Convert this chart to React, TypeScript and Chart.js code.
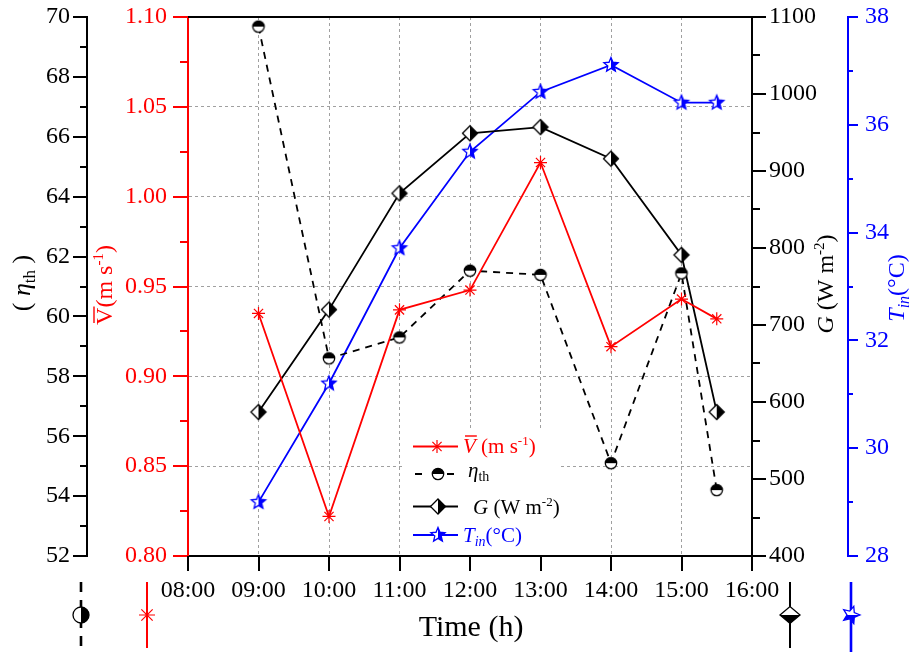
import React, { useEffect, useRef } from "react";
import { Chart, registerables } from "chart.js";

Chart.register(...registerables);

// ---------------- data ----------------
const TIME_HOURS = [9, 10, 11, 12, 13, 14, 15, 15.5];
const VELOCITY = [0.935, 0.822, 0.937, 0.948, 1.019, 0.9165, 0.943, 0.932];
const EFFICIENCY = [69.68, 58.6, 59.3, 61.53, 61.39, 55.1, 61.44, 54.2];
const IRRADIANCE = [587, 720, 871, 949, 957, 916, 791, 587];
const TEMPERATURE = [29.0, 31.2, 33.71, 35.5, 36.61, 37.11, 36.41, 36.41];
const TIME_TICK_LABELS = ["08:00", "09:00", "10:00", "11:00", "12:00", "13:00", "14:00", "15:00", "16:00"];

const X_RANGE = [8, 16];
const ETA_RANGE = [52, 70];
const V_RANGE = [0.8, 1.1];
const G_RANGE = [400, 1100];
const T_RANGE = [28, 38];

// ---------------- styles ----------------
const SERIF = "'Liberation Serif', 'Times New Roman', serif";
const RED = "#ff0000";
const BLUE = "#0000ff";
const BLACK = "#000000";
const GRID = "#a0a0a0";

type Ctx = CanvasRenderingContext2D;

function drawEta(g: Ctx, x: number, y: number, r: number, rot: number) {
  g.save();
  g.translate(x, y);
  g.rotate(rot);
  g.beginPath();
  g.arc(0, 0, r, 0, Math.PI * 2);
  g.fillStyle = "#fff";
  g.fill();
  g.beginPath();
  g.arc(0, 0, r, Math.PI, Math.PI * 2);
  g.closePath();
  g.fillStyle = BLACK;
  g.fill();
  g.beginPath();
  g.arc(0, 0, r, 0, Math.PI * 2);
  g.lineWidth = 1.3;
  g.strokeStyle = BLACK;
  g.stroke();
  g.restore();
}

function drawG(g: Ctx, x: number, y: number, rx: number, ry: number, rot: number) {
  g.save();
  g.translate(x, y);
  g.rotate(rot);
  g.beginPath();
  g.moveTo(0, -ry);
  g.lineTo(0, ry);
  g.lineTo(-rx, 0);
  g.closePath();
  g.fillStyle = "#fff";
  g.fill();
  g.beginPath();
  g.moveTo(0, -ry);
  g.lineTo(rx, 0);
  g.lineTo(0, ry);
  g.closePath();
  g.fillStyle = BLACK;
  g.fill();
  g.beginPath();
  g.moveTo(0, -ry);
  g.lineTo(rx, 0);
  g.lineTo(0, ry);
  g.lineTo(-rx, 0);
  g.closePath();
  g.lineWidth = 1.3;
  g.strokeStyle = BLACK;
  g.stroke();
  g.restore();
}

function starPath(g: Ctx, R: number, r: number) {
  g.beginPath();
  for (let i = 0; i < 10; i++) {
    const a = -Math.PI / 2 + (i * Math.PI) / 5;
    const rad = i % 2 === 0 ? R : r;
    g.lineTo(rad * Math.cos(a), rad * Math.sin(a));
  }
  g.closePath();
}

function drawT(g: Ctx, x: number, y: number, R: number, rot: number) {
  g.save();
  g.translate(x, y);
  g.rotate(rot);
  starPath(g, R, R * 0.45);
  g.fillStyle = "#fff";
  g.fill();
  g.save();
  g.clip();
  g.fillStyle = BLUE;
  g.fillRect(0, -R - 1, R + 1, 2 * R + 2);
  g.restore();
  starPath(g, R, R * 0.45);
  g.lineWidth = 1.3;
  g.strokeStyle = BLUE;
  g.stroke();
  g.restore();
}

function drawAsterisk(g: Ctx, x: number, y: number, r: number) {
  g.save();
  g.translate(x, y);
  g.strokeStyle = RED;
  g.lineWidth = 1.2;
  g.beginPath();
  for (let i = 0; i < 4; i++) {
    const a = (i * Math.PI) / 4;
    g.moveTo(-r * Math.cos(a), -r * Math.sin(a));
    g.lineTo(r * Math.cos(a), r * Math.sin(a));
  }
  g.stroke();
  g.restore();
}

function symCanvas(size: number, draw: (g: Ctx) => void) {
  const c = document.createElement("canvas");
  c.width = size;
  c.height = size;
  const g = c.getContext("2d")!;
  draw(g);
  return c;
}

type Seg = { t: string; font: string; dy?: number; over?: boolean };

function drawRich(g: Ctx, segs: Seg[], x: number, y: number, rot: number, color: string, align: "center" | "left") {
  g.save();
  g.translate(x, y);
  g.rotate(rot);
  g.fillStyle = color;
  g.strokeStyle = color;
  g.textBaseline = "alphabetic";
  g.textAlign = "left";
  const widths = segs.map((s) => {
    g.font = s.font;
    return g.measureText(s.t).width;
  });
  const total = widths.reduce((a, b) => a + b, 0);
  let cx = align === "center" ? -total / 2 : 0;
  segs.forEach((s, i) => {
    g.font = s.font;
    g.fillText(s.t, cx, s.dy || 0);
    if (s.over) {
      const m = g.measureText("V");
      const top = -(m.actualBoundingBoxAscent || 15) - 3;
      g.lineWidth = 1.4;
      g.beginPath();
      g.moveTo(cx + 2, top);
      g.lineTo(cx + widths[i] + 1, top);
      g.stroke();
    }
    cx += widths[i];
  });
  g.restore();
}

function yTicks(g: Ctx, scale: any, range: number[], minor: number, every: number, x: number, dir: number, majLen: number, minLen: number, color: string) {
  const n = Math.round((range[1] - range[0]) / minor);
  g.save();
  g.strokeStyle = color;
  g.lineWidth = 2;
  for (let i = 0; i <= n; i++) {
    const v = range[0] + i * minor;
    const y = Math.round(scale.getPixelForValue(v));
    const len = i % every === 0 ? majLen : minLen;
    g.beginPath();
    g.moveTo(x, y);
    g.lineTo(x + dir * len, y);
    g.stroke();
  }
  g.restore();
}

function edgeColor(ctx: any, range: number[]) {
  const v = ctx.tick ? ctx.tick.value : NaN;
  const eps = (range[1] - range[0]) * 1e-3;
  if (Math.abs(v - range[0]) < eps || Math.abs(v - range[1]) < eps) return "rgba(0,0,0,0)";
  return GRID;
}

function fixY(width: number) {
  return (sc: any) => {
    sc.width = width;
    sc.paddingTop = 0;
    sc.paddingBottom = 0;
  };
}

export default function App() {
  const ref = useRef<HTMLCanvasElement>(null);

  useEffect(() => {
    const canvas = ref.current!;
    const etaImg = symCanvas(16, (g) => drawEta(g, 8, 8, 5.7, 0));
    const gImg = symCanvas(20, (g) => drawG(g, 10, 10, 7.5, 7.5, 0));
    const tImg = symCanvas(20, (g) => drawT(g, 10, 10, 7.5, 0));

    const deco = {
      id: "deco",
      beforeDatasetsDraw(chart: any) {
        const g: Ctx = chart.ctx;
        g.save();
        g.fillStyle = "#fff";
        g.fillRect(405, 430, 153, 124);
        g.restore();
      },
      afterDraw(chart: any) {
        const g: Ctx = chart.ctx;
        const a = chart.chartArea;
        const s = chart.scales;
        // top frame line
        g.save();
        g.strokeStyle = BLACK;
        g.lineWidth = 2;
        g.beginPath();
        g.moveTo(a.left, a.top);
        g.lineTo(a.right, a.top);
        g.stroke();
        g.restore();

        // ticks
        yTicks(g, s.yEta, ETA_RANGE, 1, 2, s.yEta.right, -1, 14, 7, BLACK);
        yTicks(g, s.yV, V_RANGE, 0.025, 2, s.yV.right, -1, 15, 8, RED);
        yTicks(g, s.yG, G_RANGE, 50, 2, s.yG.left, 1, 14, 8, BLACK);
        yTicks(g, s.yT, T_RANGE, 1, 2, s.yT.left, 1, 10, 5, BLUE);
        g.save();
        g.strokeStyle = BLACK;
        g.lineWidth = 2;
        for (let h = X_RANGE[0]; h <= X_RANGE[1]; h++) {
          const x = Math.round(s.x.getPixelForValue(h));
          g.beginPath();
          g.moveTo(x, a.bottom);
          g.lineTo(x, a.bottom + 15);
          g.stroke();
        }
        g.restore();

        // legend
        const lx0 = 413, lx1 = 458, lc = 437;
        g.save();
        g.lineWidth = 1.8;
        g.strokeStyle = RED;
        g.beginPath(); g.moveTo(lx0, 446.5); g.lineTo(lx1, 446.5); g.stroke();
        drawAsterisk(g, lc, 446.5, 6.5);
        g.strokeStyle = BLACK;
        g.lineWidth = 2;
        g.beginPath(); g.moveTo(415, 474); g.lineTo(422, 474); g.moveTo(447, 474); g.lineTo(454, 474); g.stroke();
        drawEta(g, 438, 474, 5.7, 0);
        g.lineWidth = 1.8;
        g.beginPath(); g.moveTo(lx0, 506.5); g.lineTo(lx1, 506.5); g.stroke();
        drawG(g, 438, 506.5, 7.5, 7.5, 0);
        g.strokeStyle = BLUE;
        g.beginPath(); g.moveTo(lx0, 535); g.lineTo(lx1, 535); g.stroke();
        drawT(g, 438, 535, 7.5, 0);
        g.restore();

        const LF = 21;
        const it = (px: number) => `italic ${px}px ${SERIF}`;
        const up = (px: number) => `${px}px ${SERIF}`;
        drawRich(g, [
          { t: "V", font: it(LF), over: true },
          { t: " (m s", font: up(LF) },
          { t: "-1", font: up(13), dy: -8 },
          { t: ")", font: up(LF) },
        ], 463, 453, 0, RED, "left");
        drawRich(g, [
          { t: "η", font: it(LF) },
          { t: "th", font: up(14), dy: 4 },
        ], 468, 477, 0, BLACK, "left");
        drawRich(g, [
          { t: "G", font: it(LF) },
          { t: " (W m", font: up(LF) },
          { t: "-2", font: up(13), dy: -8 },
          { t: ")", font: up(LF) },
        ], 473, 514, 0, BLACK, "left");
        drawRich(g, [
          { t: "T", font: it(LF) },
          { t: "in", font: it(14), dy: 4 },
          { t: "(°C)", font: up(LF) },
        ], 463, 542, 0, BLUE, "left");

        // axis titles
        const R90 = -Math.PI / 2;
        drawRich(g, [
          { t: "( ", font: up(26) },
          { t: "η", font: it(26) },
          { t: "th", font: up(17), dy: 5 },
          { t: " )", font: up(26) },
        ], 30, 283, R90, BLACK, "center");
        drawRich(g, [
          { t: "V", font: up(24), over: true },
          { t: "(m s", font: up(24) },
          { t: "-1", font: up(15), dy: -9 },
          { t: ")", font: up(24) },
        ], 112, 285, R90, RED, "center");
        drawRich(g, [
          { t: "G", font: it(24) },
          { t: " (W m", font: up(24) },
          { t: "-2", font: up(15), dy: -9 },
          { t: ")", font: up(24) },
        ], 833, 284, R90, BLACK, "center");
        drawRich(g, [
          { t: "T", font: it(24) },
          { t: "in", font: it(16), dy: 5 },
          { t: "(°C)", font: up(24) },
        ], 904, 288, R90, BLUE, "center");
        drawRich(g, [{ t: "Time (h)", font: up(30) }], 471, 636, 0, BLACK, "center");

        // bottom symbol indicators
        g.save();
        g.strokeStyle = BLACK;
        g.lineWidth = 2.6;
        g.setLineDash([10, 8]);
        g.lineDashOffset = 0;
        g.beginPath(); g.moveTo(81, 582); g.lineTo(81, 652); g.stroke();
        g.setLineDash([]);
        drawEta(g, 81, 615, 8, Math.PI / 2);
        g.strokeStyle = RED;
        g.lineWidth = 2;
        g.beginPath(); g.moveTo(147, 582); g.lineTo(147, 648); g.stroke();
        drawAsterisk(g, 147, 615, 8);
        g.strokeStyle = BLACK;
        g.lineWidth = 2;
        g.beginPath(); g.moveTo(790, 582); g.lineTo(790, 648); g.stroke();
        drawG(g, 790, 615, 8.5, 10, Math.PI / 2);
        g.strokeStyle = BLUE;
        g.lineWidth = 2.6;
        g.beginPath(); g.moveTo(851, 582); g.lineTo(851, 652); g.stroke();
        drawT(g, 851, 615, 9, Math.PI / 2);
        g.restore();
      },
    };

    const xy = (ys: number[]) => TIME_HOURS.map((x, i) => ({ x, y: ys[i] }));
    const tickFont = { family: SERIF, size: 24 };

    const chart = new Chart(canvas, {
      type: "line",
      data: {
        datasets: [
          {
            label: "V",
            data: xy(VELOCITY),
            yAxisID: "yV",
            borderColor: RED,
            borderWidth: 1.8,
            pointStyle: "star",
            pointRadius: 6.5,
            pointBorderColor: RED,
            pointBorderWidth: 1.2,
            pointBackgroundColor: RED,
          },
          {
            label: "eta",
            data: xy(EFFICIENCY),
            yAxisID: "yEta",
            borderColor: BLACK,
            borderWidth: 1.8,
            borderDash: [7, 6],
            pointStyle: etaImg,
            pointRadius: 7,
          },
          {
            label: "G",
            data: xy(IRRADIANCE),
            yAxisID: "yG",
            borderColor: BLACK,
            borderWidth: 1.8,
            pointStyle: gImg,
            pointRadius: 8,
          },
          {
            label: "T",
            data: xy(TEMPERATURE),
            yAxisID: "yT",
            borderColor: BLUE,
            borderWidth: 1.8,
            pointStyle: tImg,
            pointRadius: 8,
          },
        ] as any,
      },
      options: {
        animation: false,
        responsive: false,
        layout: { padding: { top: 17, left: 0, right: 0, bottom: 0 } },
        plugins: { legend: { display: false }, tooltip: { enabled: false } },
        elements: { line: { tension: 0 } },
        scales: {
          x: {
            type: "linear",
            position: "bottom",
            min: X_RANGE[0],
            max: X_RANGE[1],
            ticks: {
              stepSize: 1,
              color: BLACK,
              font: tickFont,
              padding: 20,
              maxRotation: 0,
              callback: (v: any) => TIME_TICK_LABELS[Math.round(Number(v) - X_RANGE[0])],
            },
            grid: { drawTicks: false, lineWidth: 1, color: (c: any) => edgeColor(c, X_RANGE) },
            border: { display: true, color: BLACK, width: 2, dash: [3, 3] },
            afterFit: (sc: any) => {
              sc.height = 96;
              sc.paddingLeft = 0;
              sc.paddingRight = 0;
            },
          },
          yEta: {
            type: "linear",
            position: "left",
            weight: 1,
            min: ETA_RANGE[0],
            max: ETA_RANGE[1],
            ticks: { stepSize: 2, color: BLACK, font: tickFont, padding: 17, callback: (v: any) => String(v) },
            grid: { display: false, drawTicks: false },
            border: { display: true, color: BLACK, width: 2 },
            afterFit: fixY(87),
          },
          yV: {
            type: "linear",
            position: "left",
            weight: 0,
            min: V_RANGE[0],
            max: V_RANGE[1],
            ticks: {
              stepSize: 0.05,
              color: RED,
              font: tickFont,
              padding: 21,
              callback: (v: any) => Number(v).toFixed(2),
            },
            grid: { drawTicks: false, lineWidth: 1, color: (c: any) => edgeColor(c, V_RANGE) },
            border: { display: true, color: RED, width: 2, dash: [3, 3] },
            afterFit: fixY(101),
          },
          yG: {
            type: "linear",
            position: "right",
            weight: 0,
            min: G_RANGE[0],
            max: G_RANGE[1],
            ticks: { stepSize: 100, color: BLACK, font: tickFont, padding: 17, callback: (v: any) => String(v) },
            grid: { display: false, drawTicks: false },
            border: { display: true, color: BLACK, width: 2 },
            afterFit: fixY(96),
          },
          yT: {
            type: "linear",
            position: "right",
            weight: 1,
            min: T_RANGE[0],
            max: T_RANGE[1],
            ticks: { stepSize: 2, color: BLUE, font: tickFont, padding: 17, callback: (v: any) => String(v) },
            grid: { display: false, drawTicks: false },
            border: { display: true, color: BLUE, width: 2 },
            afterFit: fixY(63),
          },
        } as any,
      },
      plugins: [deco],
    });

    return () => chart.destroy();
  }, []);

  return (
    <div style={{ position: "absolute", left: 0, top: 0, width: 911, height: 652, background: "#fff" }}>
      <canvas ref={ref} width={911} height={652} style={{ display: "block", width: 911, height: 652 }} />
    </div>
  );
}
